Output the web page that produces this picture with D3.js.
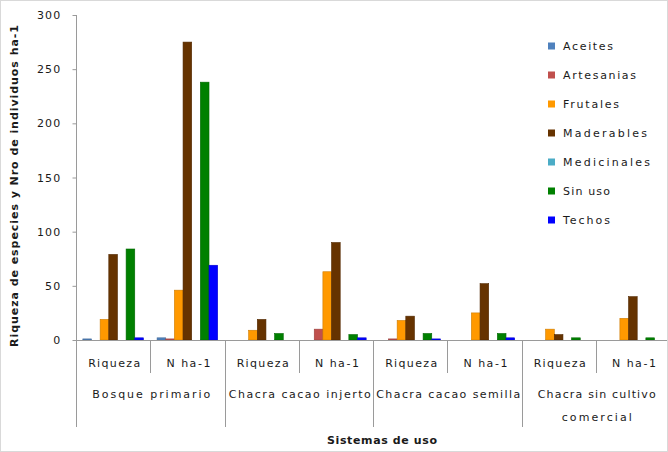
<!DOCTYPE html>
<html>
<head>
<meta charset="utf-8">
<script src="https://cdn.jsdelivr.net/npm/d3@7/dist/d3.min.js"></script>
<style>
  html, body { margin: 0; padding: 0; background: #fff; }
  svg { display: block; font-family: "DejaVu Sans", sans-serif; }
</style>
</head>
<body>
<script>
// Sistemas de uso: two measures per system
const groups = ["Bosque primario", "Chacra cacao injerto", "Chacra cacao semilla", "Chacra sin cultivo comercial"];
const measures = ["Riqueza", "N ha-1"];

// Use categories (series)
const series = ["Aceites", "Artesanias", "Frutales", "Maderables", "Medicinales", "Sin uso", "Techos"];
const colors = ["#4F81BD", "#C0504D", "#FF9900", "#663300", "#4BACC6", "#008000", "#0000FF"];

// One value per (group, measure), in order
const aceites     = [1, 2, 0, 0, 0, 0, 0, 0];
const artesanias  = [0, 1, 0, 10, 1, 0, 0, 0];
const frutales    = [19, 46, 9, 63, 18, 25, 10, 20];
const maderables  = [79, 275, 19, 90, 22, 52, 5, 40];
const medicinales = [0, 0, 0, 0, 0, 0, 0, 0];
const sinUso      = [84, 238, 6, 5, 6, 6, 2, 2];
const techos      = [2, 69, 0, 2, 1, 2, 0, 0];

const yTicks = [0, 50, 100, 150, 200, 250, 300];

const seriesValues = [aceites, artesanias, frutales, maderables, medicinales, sinUso, techos];

const W = 668, H = 452;
const plotLeft = 76, plotRight = 670, plotTop = 15, plotBottom = 340;
const ink = "#1a1a1a", gridGray = "#9a9a9a";

const svg = d3.select("body").append("svg").attr("width", W).attr("height", H);

const cats = [];
groups.forEach((g, gi) => measures.forEach((m, mi) => cats.push({ key: gi + "|" + mi, g, gi, m, mi })));

const x = d3.scaleBand().domain(cats.map(c => c.key)).range([plotLeft, plotRight]).padding(0);
const xs = d3.scaleBand().domain(series).range([0, x.bandwidth()]).paddingInner(0).paddingOuter(0.79);
const y = d3.scaleLinear().domain([0, 300]).range([plotBottom, plotTop]);

// y axis
const yAxis = d3.axisLeft(y).tickValues(yTicks).tickSize(4).tickPadding(11);
const gy = svg.append("g").attr("transform", `translate(${plotLeft + 0.5},0)`).call(yAxis);
gy.select(".domain").attr("stroke", gridGray).attr("d", `M0,${plotTop}V${plotBottom}`);
gy.selectAll(".tick line").attr("stroke", gridGray);
gy.selectAll(".tick text").attr("font-size", 11).attr("fill", ink)
  .attr("font-family", "DejaVu Sans, sans-serif").attr("letter-spacing", 1.2);

// bars
const bars = svg.append("g");
series.forEach((s, si) => {
  bars.selectAll(null)
    .data(cats.map((c, i) => ({ c, v: seriesValues[si][i] })).filter(d => d.v > 0))
    .enter().append("rect")
    .attr("x", d => x(d.c.key) + xs(s))
    .attr("y", d => y(d.v))
    .attr("width", xs.bandwidth())
    .attr("height", d => plotBottom - y(d.v))
    .attr("fill", colors[si])
    .attr("stroke", d3.color(colors[si]).darker(0.6))
    .attr("stroke-width", 0.6);
});

// x axis baseline
svg.append("line").attr("x1", plotLeft).attr("x2", plotRight).attr("y1", plotBottom + 0.5).attr("y2", plotBottom + 0.5)
  .attr("stroke", gridGray);

// category separators: short between measures, long between systems
cats.forEach((c, i) => {
  const xx = Math.round(x(c.key)) + 0.5;
  const long = c.mi === 0;
  svg.append("line").attr("x1", xx).attr("x2", xx).attr("y1", plotBottom).attr("y2", long ? 427 : 373)
    .attr("stroke", gridGray);
});

// measure labels
const measureWidths = { "Riqueza": 52, "N ha-1": 44 };
svg.append("g").selectAll("text").data(cats).enter().append("text")
  .attr("x", c => x(c.key) + x.bandwidth() / 2 + 1)
  .attr("y", 367)
  .attr("text-anchor", "middle")
  .attr("font-size", 11).attr("fill", ink)
  .attr("textLength", c => measureWidths[c.m]).attr("lengthAdjust", "spacing")
  .text(c => c.m);

// system labels (wrapped)
const groupLines = [["Bosque primario"], ["Chacra cacao injerto"], ["Chacra cacao semilla"], ["Chacra sin cultivo", "comercial"]];
const groupLineWidths = [[118], [142], [144], [118, 70]];
groups.forEach((g, gi) => {
  const cx = x(gi + "|0") + x.bandwidth();
  groupLines[gi].forEach((ln, li) => {
    svg.append("text").attr("x", cx + 1).attr("y", 398 + li * 23).attr("text-anchor", "middle")
      .attr("font-size", 11).attr("fill", ink)
      .attr("textLength", groupLineWidths[gi][li]).attr("lengthAdjust", "spacing")
      .text(ln);
  });
});

// axis titles
svg.append("text").attr("x", 382).attr("y", 444).attr("text-anchor", "middle")
  .attr("font-size", 11).attr("font-weight", "bold").attr("fill", ink)
  .attr("textLength", 110).attr("lengthAdjust", "spacing")
  .text("Sistemas de uso");

svg.append("text").attr("transform", "translate(18,186) rotate(-90)")
  .attr("text-anchor", "middle").attr("font-size", 11).attr("font-weight", "bold").attr("fill", ink)
  .attr("textLength", 322).attr("lengthAdjust", "spacing")
  .text("Riqueza de especies y Nro de individuos ha-1");

// legend
const legendWidths = [50, 73, 56, 84, 87, 47, 47];
const lg = svg.append("g").attr("transform", "translate(548,46)");
series.forEach((s, i) => {
  const row = lg.append("g").attr("transform", `translate(0,${i * 29})`);
  row.append("rect").attr("x", 0).attr("y", -3.5).attr("width", 7).attr("height", 7).attr("fill", colors[i]);
  row.append("text").attr("x", 15).attr("y", 4).attr("font-size", 11).attr("fill", ink)
    .attr("textLength", legendWidths[i]).attr("lengthAdjust", "spacing")
    .text(s);
});

// outer frame
svg.append("rect").attr("x", 0.5).attr("y", 0.5).attr("width", W - 1).attr("height", H - 1)
  .attr("fill", "none").attr("stroke", "#d9d9d9");
</script>
</body>
</html>
